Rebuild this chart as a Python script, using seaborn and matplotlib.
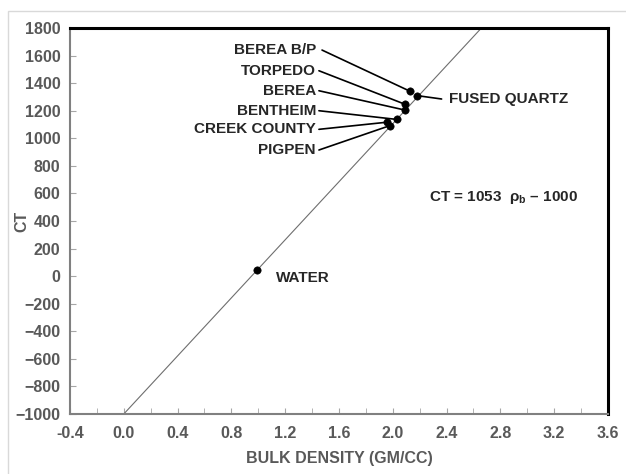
import numpy as np
import pandas as pd
import matplotlib
matplotlib.use('Agg')
import matplotlib.pyplot as plt
from matplotlib.patches import Rectangle
from matplotlib.ticker import MultipleLocator
import seaborn as sns

# samples
samples = ['WATER', 'PIGPEN', 'CREEK COUNTY', 'BENTHEIM', 'BEREA', 'TORPEDO', 'BEREA B/P', 'FUSED QUARTZ']
bulk_density = [0.99, 1.98, 1.96, 2.03, 2.09, 2.09, 2.13, 2.18]
ct_values = [47, 1089, 1116, 1138, 1207, 1251, 1345, 1307]

# fit line end points: CT = 1053 rho_b - 1000
fit_x = [0.0, 2.659]
fit_ct = [-1000, 1800]

# label text anchor and leader start (data coords)
left_labels = ['BEREA B/P', 'TORPEDO', 'BEREA', 'BENTHEIM', 'CREEK COUNTY', 'PIGPEN']
left_label_y = [1640, 1490, 1345, 1200, 1065, 915]
left_label_x = 1.429
leader_start_x = [1.474, 1.451, 1.451, 1.451, 1.451, 1.451]

df = pd.DataFrame({'sample': samples, 'rho': bulk_density, 'ct': ct_values})

sns.set_style('white')
plt.rcParams['font.family'] = ['Liberation Sans', 'DejaVu Sans']
plt.rcParams['font.weight'] = 'bold'
plt.rcParams['mathtext.fontset'] = 'custom'
plt.rcParams['mathtext.rm'] = 'Liberation Sans:bold'
plt.rcParams['mathtext.bf'] = 'Liberation Sans:bold'

fig = plt.figure(figsize=(6.26, 4.74), dpi=100)
ax = fig.add_axes([0.1118, 0.1266, 0.8594, 0.8143])

sns.lineplot(x=fit_x, y=fit_ct, ax=ax, color='#6e6e6e', lw=0.8)
sns.scatterplot(data=df, x='rho', y='ct', ax=ax, color='black', s=28, edgecolor='black', zorder=5)

for name, ty, sx in zip(left_labels, left_label_y, leader_start_x):
    row = df[df['sample'] == name].iloc[0]
    ax.text(left_label_x, ty, name, ha='right', va='center', fontsize=11, fontweight='bold')
    ax.plot([sx, row['rho'] - 0.01], [ty, row['ct']], color='black', lw=1.2)

fq = df[df['sample'] == 'FUSED QUARTZ'].iloc[0]
ax.plot([fq['rho'] + 0.02, 2.363], [fq['ct'], 1285], color='black', lw=1.2)
ax.text(2.418, 1285, 'FUSED QUARTZ', ha='left', va='center', fontsize=11, fontweight='bold')

ax.text(1.132, -11, 'WATER', ha='left', va='center', fontsize=11, fontweight='bold')
ax.text(2.825, 572, 'CT = 1053  ρ$_\\mathrm{b}$ – 1000', ha='center', va='center',
        fontsize=11, fontweight='bold')

ax.set_xlim(-0.4, 3.6)
ax.set_ylim(-1000, 1800)
ax.xaxis.set_major_locator(MultipleLocator(0.4))
ax.xaxis.set_minor_locator(MultipleLocator(0.2))
ax.yaxis.set_major_locator(MultipleLocator(200))
ax.set_xticks(ax.get_xticks())
ax.set_xticklabels([f'{v:.1f}' for v in ax.get_xticks()])
ax.set_xlim(-0.4, 3.6)
ax.tick_params(axis='both', which='both', direction='in', length=4, color='#a6a6a6',
               labelcolor='#595959', labelsize=11.5)
ax.tick_params(axis='x', which='both', top=False, bottom=True, pad=9)
ax.tick_params(axis='y', which='both', left=True, right=False, pad=7)
for lab in ax.get_xticklabels() + ax.get_yticklabels():
    lab.set_fontweight('bold')

ax.set_xlabel('BULK DENSITY (GM/CC)', fontsize=11.5, fontweight='bold', color='#595959', labelpad=7)
ax.set_ylabel('CT', fontsize=11.5, fontweight='bold', color='#595959')
ax.yaxis.set_label_coords(-0.076, 0.5)

for side in ['left', 'bottom']:
    ax.spines[side].set_color('#808080')
    ax.spines[side].set_linewidth(1.5)
for side in ['top', 'right']:
    ax.spines[side].set_color('black')
    ax.spines[side].set_linewidth(2.2)

fig.patches.append(Rectangle((8 / 626, -0.1), 1.2, 1.1 - 10.7 / 474, transform=fig.transFigure,
                             fill=False, edgecolor='#d9d9d9', lw=1))

fig.savefig('out.png', dpi=100)
